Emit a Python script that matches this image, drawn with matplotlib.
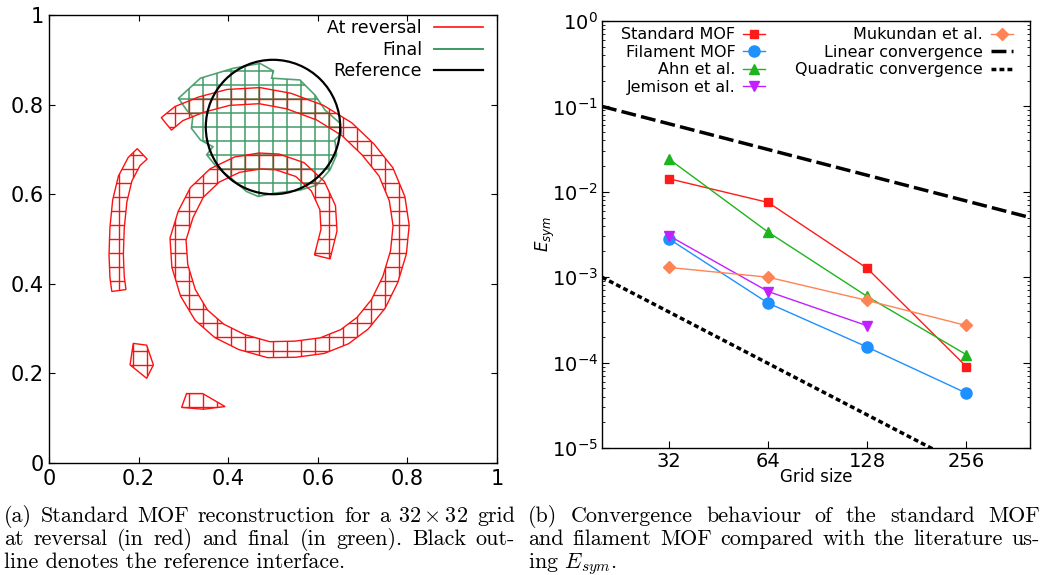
import numpy as np
import matplotlib
matplotlib.use("Agg")
import matplotlib.pyplot as plt
from matplotlib.patches import Polygon, Circle
from matplotlib.collections import LineCollection
from matplotlib.lines import Line2D

# ---------------- Panel (a) data ----------------
grid_n = 32
# main spiral band (centre line) at reversal
spiral_x = [0.61, 0.625, 0.622, 0.60, 0.56, 0.51, 0.47, 0.42, 0.37, 0.33, 0.305, 0.288,
            0.292, 0.31, 0.34, 0.38, 0.43, 0.49, 0.55, 0.61, 0.66, 0.70, 0.735, 0.762,
            0.78, 0.786, 0.777, 0.752, 0.712, 0.665, 0.605, 0.535, 0.47, 0.40, 0.34,
            0.29, 0.262]
spiral_y = [0.46, 0.52, 0.57, 0.618, 0.655, 0.672, 0.674, 0.666, 0.642, 0.604, 0.555,
            0.50, 0.44, 0.38, 0.33, 0.295, 0.27, 0.253, 0.254, 0.262, 0.282, 0.312,
            0.355, 0.41, 0.47, 0.53, 0.59, 0.65, 0.70, 0.745, 0.782, 0.808, 0.82,
            0.816, 0.80, 0.78, 0.757]
spiral_hw = 0.018
# left filament
arc_x = [0.208, 0.19, 0.17, 0.158, 0.152, 0.150, 0.152, 0.156]
arc_y = [0.69, 0.673, 0.635, 0.585, 0.525, 0.465, 0.415, 0.385]
arc_hw = 0.016
# small fragments
blob1_x = [0.188, 0.218, 0.233, 0.218, 0.181]
blob1_y = [0.267, 0.263, 0.219, 0.189, 0.219]
blob2_x = [0.307, 0.343, 0.393, 0.345, 0.296]
blob2_y = [0.155, 0.155, 0.126, 0.120, 0.124]
# final shape (green)
final_x = [0.289, 0.338, 0.411, 0.471, 0.501, 0.497, 0.560, 0.594, 0.616, 0.650, 0.653,
           0.638, 0.642, 0.627, 0.597, 0.560, 0.501, 0.467, 0.441, 0.411, 0.374, 0.352,
           0.366, 0.338, 0.318, 0.321, 0.307]
final_y = [0.814, 0.859, 0.881, 0.892, 0.875, 0.859, 0.855, 0.821, 0.788, 0.758, 0.736,
           0.721, 0.688, 0.654, 0.620, 0.609, 0.602, 0.595, 0.606, 0.632, 0.661, 0.688,
           0.706, 0.721, 0.747, 0.773, 0.788]
ref_center = (0.5, 0.75)
ref_radius = 0.15

# ---------------- Panel (b) data ----------------
grid_sizes = [32, 64, 128, 256]
std_mof = [0.0142, 0.0075, 0.00127, 9.0e-5]
fil_mof = [0.0028, 0.000497, 0.000152, 4.4e-5]
ahn = [0.0241, 0.00337, 0.000595, 0.000124]
jemison_sizes = [32, 64, 128]
jemison = [0.00305, 0.00068, 0.00027]
mukundan = [0.0013, 0.001, 0.000534, 0.000272]
lin_x = [20, 400]
lin_y = [0.1, 0.005]
quad_x = [20, 400]
quad_y = [1e-3, 2.5e-6]

RED = "#ff1010"
GREEN = "#3d9a63"

fig = plt.figure(figsize=(10.42, 5.75), dpi=100)

# ---------------- Panel (a) ----------------
ax1 = fig.add_axes([49 / 1042, 1 - 463 / 575, 448 / 1042, 448 / 575])
ax1.set_xlim(0, 1)
ax1.set_ylim(0, 1)


def band_polygon(xs, ys, hw):
    p = np.column_stack([xs, ys]).astype(float)
    t = np.gradient(p, axis=0)
    t /= np.linalg.norm(t, axis=1)[:, None]
    n = np.column_stack([-t[:, 1], t[:, 0]])
    left = p + n * hw
    right = p - n * hw
    return np.vstack([left, right[::-1]])


def draw_mesh(ax, poly, color, lw, alpha=1.0, z=2):
    patch = Polygon(poly, closed=True, fill=False, edgecolor=color, lw=lw,
                    alpha=alpha, zorder=z, joinstyle="miter")
    ax.add_patch(patch)
    g = np.arange(0, grid_n + 1) / grid_n
    segs = [[(x, 0), (x, 1)] for x in g] + [[(0, y), (1, y)] for y in g]
    lc = LineCollection(segs, colors=color, lw=lw, alpha=alpha, zorder=z)
    ax.add_collection(lc)
    lc.set_clip_path(patch)


draw_mesh(ax1, np.column_stack([final_x, final_y]), GREEN, 1.2, alpha=0.9, z=2)
draw_mesh(ax1, band_polygon(spiral_x, spiral_y, spiral_hw), RED, 1.0, z=3)
draw_mesh(ax1, band_polygon(arc_x, arc_y, arc_hw), RED, 1.0, z=3)
draw_mesh(ax1, np.column_stack([blob1_x, blob1_y]), RED, 1.0, z=3)
draw_mesh(ax1, np.column_stack([blob2_x, blob2_y]), RED, 1.0, z=3)
ax1.add_patch(Circle(ref_center, ref_radius, fill=False, edgecolor="black", lw=1.6, zorder=4))

ax1.set_xticks([0, 0.2, 0.4, 0.6, 0.8, 1])
ax1.set_xticklabels(["0", "0.2", "0.4", "0.6", "0.8", "1"])
ax1.set_yticks([0, 0.2, 0.4, 0.6, 0.8, 1])
ax1.set_yticklabels(["0", "0.2", "0.4", "0.6", "0.8", "1"])
ax1.tick_params(direction="in", top=True, right=True, labelsize=15, length=4, pad=4)
for s in ax1.spines.values():
    s.set_linewidth(1.0)

handles1 = [Line2D([], [], color=RED, lw=1.2), Line2D([], [], color=GREEN, lw=1.4),
            Line2D([], [], color="black", lw=1.6)]
ax1.legend(handles1, ["At reversal", "Final", "Reference"], loc="upper right",
           bbox_to_anchor=(0.968, 0.99), frameon=False, markerfirst=False,
           fontsize=12.5, handlelength=2.8, handletextpad=0.7, labelspacing=0.2,
           borderpad=0, borderaxespad=0)

# ---------------- Panel (b) ----------------
ax2 = fig.add_axes([602 / 1042, 1 - 448 / 575, 428 / 1042, 427 / 575])
ax2.set_xscale("log", base=2)
ax2.set_yscale("log")
ax2.set_xlim(20, 400)
ax2.set_ylim(1e-5, 1)

ax2.plot(grid_sizes, std_mof, color="#ff1a1a", marker="s", ms=6, lw=1.0, label="Standard MOF")
ax2.plot(grid_sizes, fil_mof, color="#1e90ff", marker="o", ms=8, lw=1.0, label="Filament MOF")
ax2.plot(grid_sizes, ahn, color="#1db51d", marker="^", ms=7, lw=1.0, label="Ahn et al.")
ax2.plot(jemison_sizes, jemison, color="#c21fff", marker="v", ms=7, lw=1.0, label="Jemison et al.")
ax2.plot(grid_sizes, mukundan, color="#ff8355", marker="D", ms=6, lw=1.0, label="Mukundan et al.")
ax2.plot(lin_x, lin_y, color="black", lw=2.5, dashes=(4.3, 1.5), label="Linear convergence")
ax2.plot(quad_x, quad_y, color="black", lw=2.5, dashes=(1.4, 0.9), label="Quadratic convergence")

ax2.set_xticks(grid_sizes)
ax2.set_xticklabels([str(g) for g in grid_sizes])
ax2.xaxis.set_minor_locator(matplotlib.ticker.NullLocator())
ax2.set_yticks([1e-5, 1e-4, 1e-3, 1e-2, 1e-1, 1])
ax2.tick_params(which="both", direction="in", right=True, top=False)
ax2.tick_params(which="major", labelsize=14, length=5, pad=3)
ax2.tick_params(which="minor", length=2.5)
ax2.set_xlabel("Grid size", fontsize=12, labelpad=-2)
ax2.set_ylabel("$E_{sym}$", fontsize=12, labelpad=-4)
for s in ax2.spines.values():
    s.set_linewidth(1.0)

ax2.legend(loc="upper left", bbox_to_anchor=(0.045, 0.985), ncol=2, frameon=False,
           markerfirst=False, fontsize=11.5, handlelength=1.35, handletextpad=0.5,
           labelspacing=0.15, columnspacing=1.9, borderpad=0, borderaxespad=0)

# ---------------- Captions ----------------
cap_a = ["(a) Standard MOF reconstruction for a $32 \\times 32$ grid",
         "at reversal (in red) and final (in green). Black out-",
         "line denotes the reference interface."]
cap_b = ["(b) Convergence behaviour of the standard MOF",
         "and filament MOF compared with the literature us-",
         "ing $E_{sym}$."]

fig.canvas.draw()
renderer = fig.canvas.get_renderer()


def split_words(line):
    words = line.split(" ")
    merged, buf = [], None
    for w in words:
        if buf is not None:
            buf += " " + w
            if w.count("$") % 2 == 1:
                merged.append(buf)
                buf = None
        elif w.count("$") % 2 == 1:
            buf = w
        else:
            merged.append(w)
    return merged


def natural_width(line, size):
    t = fig.text(0, 0, line, family="cmr10", math_fontfamily="cm", fontsize=size)
    w = t.get_window_extent(renderer).width
    t.remove()
    return w


base = 14.0
scale = min((511 / natural_width(cap_a[0], base)), (512 / natural_width(cap_b[1], base)))
cap_size = base * scale * 0.985
cap_kw = dict(family="cmr10", math_fontfamily="cm", fontsize=cap_size, va="baseline")


def justified(lines, x0, x1, y0, dy):
    for i, line in enumerate(lines):
        y = y0 + i * dy
        words = split_words(line)
        if i == len(lines) - 1:
            fig.text(x0 / 1042, 1 - y / 575, line, **cap_kw)
            continue
        arts = [fig.text(0, 1 - y / 575, w, **cap_kw) for w in words]
        widths = [a.get_window_extent(renderer).width for a in arts]
        gap = (x1 - x0 - sum(widths)) / (len(words) - 1)
        x = x0
        for a, w in zip(arts, widths):
            a.set_x(x / 1042)
            x += w + gap


justified(cap_a, 4, 515, 522, 23)
justified(cap_b, 528, 1040, 522, 23)

fig.savefig("out.png", dpi=100)
